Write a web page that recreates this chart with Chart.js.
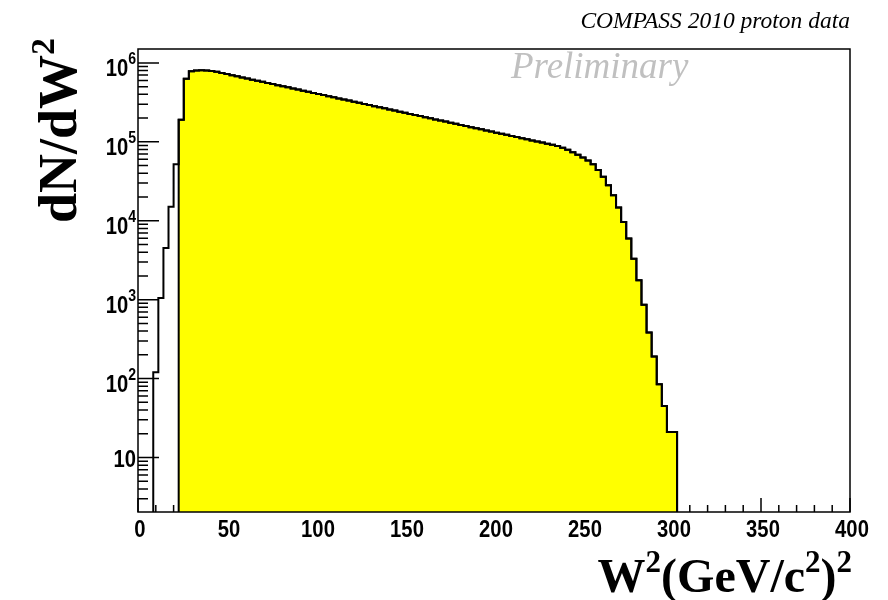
<!DOCTYPE html>
<html>
<head>
<meta charset="utf-8">
<script src="https://cdn.jsdelivr.net/npm/chart.js@4.4.1/dist/chart.umd.min.js"></script>
<style>
  html, body { margin: 0; padding: 0; background: #fff; }
</style>
</head>
<body>
<canvas id="w2Chart" width="888" height="600"></canvas>
<script>
// W^2 histogram: 140 bins between 0 and 400 (GeV/c^2)^2
const binWidth = 400 / 140;

// all events, starting at bin 3
const firstBin = 3;
const allCounts = [
    4, 120, 1050, 4500, 15000, 52000, 190000, 630000, 782000, 800000,
    806000, 802000, 792000, 772000, 744700, 721100, 698200, 676100, 654600, 633900,
    613800, 594300, 575400, 557200, 539500, 522400, 505800, 489800, 474200, 459200,
    444600, 430500, 416900, 403600, 390800, 378400, 366400, 354800, 343600, 332700,
    322100, 311900, 302000, 292400, 283100, 274200, 265500, 257000, 248900, 241000,
    233300, 225900, 218800, 211800, 205100, 198600, 192300, 186200, 180300, 174600,
    169000, 163700, 158500, 153500, 148600, 143900, 139300, 134900, 130600, 126500,
    122500, 118600, 114800, 111200, 107600, 104200, 100900, 97700, 94600, 91700,
    88200, 84000, 79300, 73800, 68500, 63500, 58000, 51800, 44000, 36000,
    28200, 21100, 14700, 9650, 5940, 3310, 1760, 860, 385, 190,
    85, 45, 21
];

// selected events (yellow): only the first bin differs from the full sample
const cutFirstBin = 8;
const cutCounts = [18800].concat(allCounts.slice(cutFirstBin - firstBin + 1));

const xTicks = [0, 50, 100, 150, 200, 250, 300, 350, 400];
const yDecades = [1, 2, 3, 4, 5, 6];
const yMin = 2.04;
const yMax = 1.5e6;

// histogram outline as stepped points on the bin edges
function stepPoints(start, counts) {
    const pts = [{ x: start * binWidth, y: 0.1 }];
    counts.forEach((c, i) => pts.push({ x: (start + i) * binWidth, y: c }));
    const end = (start + counts.length) * binWidth;
    pts.push({ x: end, y: counts[counts.length - 1] });
    pts.push({ x: end, y: 0.1 });
    return pts;
}

// text squeezed a little horizontally, like the ROOT fonts
function drawText(ctx, text, x, y, font, align, sx) {
    ctx.save();
    ctx.font = font;
    ctx.textAlign = align;
    ctx.textBaseline = "alphabetic";
    ctx.translate(x, y);
    ctx.scale(sx, 1);
    ctx.fillText(text, 0, 0);
    ctx.restore();
}

// draw pieces [text, font, rise] right-aligned ending at xEnd
function drawPieces(ctx, pieces, xEnd, y) {
    ctx.save();
    let widths = pieces.map((p) => { ctx.font = p[1]; return ctx.measureText(p[0]).width; });
    let x = xEnd - widths.reduce((a, b) => a + b, 0);
    ctx.textAlign = "left";
    ctx.textBaseline = "alphabetic";
    pieces.forEach((p, i) => {
        ctx.font = p[1];
        ctx.fillText(p[0], x, y - p[2]);
        x += widths[i];
    });
    ctx.restore();
}

// ticks go under the histograms, like in ROOT
const ticksBelow = {
    id: "ticksBelow",
    beforeDatasetsDraw(chart) {
        const ctx = chart.ctx;
        const area = chart.chartArea;
        const xs = chart.scales.x;
        const ys = chart.scales.y;
        ctx.save();
        ctx.strokeStyle = "#000";
        ctx.lineWidth = 1.5;
        ctx.beginPath();
        for (let v = 0; v <= 400; v += 10) {
            const px = xs.getPixelForValue(v);
            const len = v % 50 === 0 ? 14 : 7;
            ctx.moveTo(px, area.bottom);
            ctx.lineTo(px, area.bottom - len);
        }
        for (let d = 0; d <= 6; d++) {
            for (let m = 1; m <= 9; m++) {
                const v = m * Math.pow(10, d);
                if (v < yMin || v > yMax) continue;
                const py = ys.getPixelForValue(v);
                ctx.moveTo(area.left, py);
                ctx.lineTo(area.left + (m === 1 ? 21 : 10), py);
            }
        }
        ctx.stroke();
        ctx.restore();
    },
    afterDatasetsDraw(chart) {
        const ctx = chart.ctx;
        const area = chart.chartArea;
        const xs = chart.scales.x;
        const ys = chart.scales.y;

        // frame
        ctx.save();
        ctx.strokeStyle = "#000";
        ctx.lineWidth = 1.5;
        ctx.strokeRect(area.left, area.top, area.right - area.left, area.bottom - area.top);

        ctx.fillStyle = "#000";
        // x tick labels
        xTicks.forEach((v) => {
            drawText(ctx, String(v), xs.getPixelForValue(v) + 2, 537, "bold 23px 'Liberation Sans', Arial", "center", 0.88);
        });
        // y tick labels 10^n
        yDecades.forEach((n) => {
            const py = ys.getPixelForValue(Math.pow(10, n));
            const right = area.left - 2;
            if (n === 1) {
                drawText(ctx, "10", right, py + 9, "bold 23px 'Liberation Sans', Arial", "right", 0.88);
                return;
            }
            ctx.font = "bold 16px 'Liberation Sans', Arial";
            const sw = ctx.measureText(String(n)).width * 0.88;
            drawText(ctx, String(n), right, py + 1, "bold 16px 'Liberation Sans', Arial", "right", 0.88);
            drawText(ctx, "10", right - sw, py + 13, "bold 23px 'Liberation Sans', Arial", "right", 0.88);
        });

        // axis titles
        const serif = "'Liberation Serif', 'Times New Roman', serif";
        drawPieces(ctx, [
            ["W", "bold 48px " + serif, 0], ["2", "bold 31px " + serif, 20],
            ["(GeV/c", "bold 48px " + serif, 0], ["2", "bold 31px " + serif, 20],
            [")", "bold 48px " + serif, 0], ["2", "bold 31px " + serif, 20]
        ], area.right + 2, 592);

        ctx.save();
        ctx.translate(76, 38);
        ctx.rotate(-Math.PI / 2);
        drawPieces(ctx, [["dN/dW", "bold 54px " + serif, 0], ["2", "bold 34px " + serif, 22]], 0, 0);
        ctx.restore();

        // labels at the top
        ctx.fillStyle = "#000";
        drawText(ctx, "COMPASS 2010 proton data", area.right, 28, "italic 23.5px " + serif, "right", 1);
        ctx.fillStyle = "#c0c0c0";
        drawText(ctx, "Preliminary", 511, 78, "italic 37px " + serif, "left", 1);
        ctx.restore();
    }
};

const ctx = document.getElementById("w2Chart").getContext("2d");
const w2Chart = new Chart(ctx, {
    type: "line",
    data: {
        datasets: [
            {
                label: "all",
                data: stepPoints(firstBin, allCounts),
                stepped: "after",
                borderColor: "#000",
                borderWidth: 2,
                pointRadius: 0,
                fill: false,
                order: 1,
            },
            {
                label: "selected",
                data: stepPoints(cutFirstBin, cutCounts),
                stepped: "after",
                borderColor: "#000",
                borderWidth: 2,
                backgroundColor: "#ffff00",
                pointRadius: 0,
                fill: "start",
                order: 2,
            },
        ],
    },
    options: {
        responsive: false,
        animation: false,
        layout: { padding: { top: 49, right: 38, left: 0, bottom: 0 } },
        plugins: {
            legend: { display: false },
            tooltip: { enabled: false },
        },
        scales: {
            x: {
                type: "linear",
                min: 0,
                max: 400,
                grid: { display: false },
                border: { display: false },
                ticks: { display: false },
                afterFit(scale) { scale.height = 88; },
            },
            y: {
                type: "logarithmic",
                min: yMin,
                max: yMax,
                grid: { display: false },
                border: { display: false },
                ticks: { display: false },
                afterFit(scale) { scale.width = 138; },
            },
        },
    },
    plugins: [ticksBelow],
});
</script>
</body>
</html>
